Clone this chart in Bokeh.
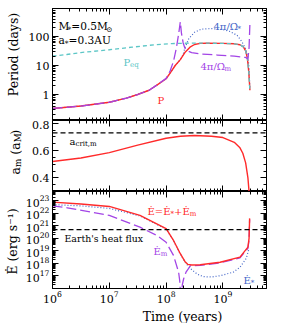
import math
from bokeh.plotting import figure
from bokeh.layouts import column, row
from bokeh.models import (Range1d, LogScale, LinearScale, FixedTicker, LogAxis, LinearAxis,
                          Label, Span, CustomJSTickFormatter, LogTickFormatter)
from bokeh.embed import file_html
from bokeh.resources import INLINE

FONT = "DejaVu Serif"
RED = "#ff2a2a"; CYAN = "#5cc6c6"; PURPLE = "#a345e6"; BLUE = "#4466c8"

# ---------------- data (log10 of time in years) ----------------
logt_P = [6.0, 6.5, 7.0, 7.3, 7.5, 7.7, 7.85, 8.0, 8.07, 8.16, 8.25, 8.33, 8.42, 8.5,
          8.6, 8.7, 9.0, 9.2, 9.3, 9.36, 9.4, 9.43, 9.455, 9.475]
P_days = [0.33, 0.40, 0.54, 0.75, 1.0, 1.4, 2.2, 3.5, 5.5, 10, 16, 28, 43, 53,
          58, 59, 58, 56, 52, 44, 32, 18, 6, 1.4]

logt_Peq = [6.0, 6.25, 6.5, 7.0, 7.4, 7.8, 8.1, 8.4, 8.7, 9.0, 9.2, 9.3, 9.36, 9.4, 9.43, 9.455, 9.475]
Peq_days = [21, 24, 28, 35, 43, 52, 57, 59, 59, 58, 56, 52, 44, 32, 18, 6, 1.3]

logt_Om = [6.0, 6.5, 7.0, 7.3, 7.5, 7.7, 7.85, 8.0, 8.07, 8.13, 8.18, 8.22, 8.25, 8.27, 8.3,
           8.33, 8.38, 8.45, 8.6, 8.9, 9.2, 9.4, 9.44, 9.46, 9.475]
Om_days = [0.33, 0.40, 0.54, 0.75, 1.0, 1.4, 2.2, 3.6, 6.5, 14, 40, 120, 320, 130, 60,
           40, 32, 28, 25, 23, 21, 19, 17, 40, 280]

logt_Os = [6.0, 6.5, 7.0, 7.3, 7.5, 7.7, 7.85, 8.0, 8.07, 8.16, 8.25, 8.3, 8.33, 8.4,
           8.5, 8.62, 8.8, 9.0, 9.12, 9.25, 9.33, 9.4, 9.44, 9.46, 9.475]
Os_days = [0.33, 0.40, 0.54, 0.75, 1.0, 1.4, 2.2, 3.5, 5.5, 10, 16, 24, 40, 85,
           140, 180, 188, 172, 150, 110, 68, 38, 20, 8, 1.5]

logt_am = [6.0, 6.5, 7.0, 7.5, 8.0, 8.25, 8.5, 8.8, 9.0, 9.2, 9.3, 9.35, 9.4, 9.44, 9.46]
a_m = [0.52, 0.545, 0.585, 0.64, 0.69, 0.705, 0.71, 0.705, 0.695, 0.66, 0.62, 0.58, 0.51, 0.40, 0.30]
a_crit = 0.73

logt_E = [6.0, 6.5, 7.0, 7.54, 8.0, 8.13, 8.25, 8.33, 8.38, 8.45, 8.6, 8.95, 9.3, 9.44, 9.46, 9.47]
E_tot = [7.9e22, 5.6e22, 3.6e22, 6.9e21, 6.0e20, 6.9e19, 6.0e18, 1.45e18, 8.5e17, 7.6e17,
         7.9e17, 1.26e18, 3.2e18, 2.0e19, 1.0e20, 4.0e21]

logt_Em = [6.0, 6.26, 7.0, 7.54, 7.84, 8.0, 8.13, 8.22, 8.24, 8.255, 8.27, 8.285, 8.31, 8.35,
           8.43, 8.6, 8.95, 9.3, 9.44, 9.46, 9.47]
E_m = [4.0e22, 2.8e22, 6.9e21, 7.9e20, 1.7e20, 5.0e19, 4.4e18, 2.0e17, 4.0e16, 3.0e15, 1.0e15,
       2.0e16, 6.3e16, 2.0e17, 6.6e17, 7.1e17, 1.12e18, 2.8e18, 1.6e19, 8.0e19, 3.2e21]

logt_Es = [6.0, 6.5, 7.0, 7.54, 8.0, 8.13, 8.25, 8.35, 8.45, 8.55, 8.65, 8.8, 8.95, 9.18, 9.3, 9.41, 9.46]
E_star = [5.0e22, 4.0e22, 2.5e22, 6.3e21, 5.6e20, 6.8e19, 5.6e18, 1.0e18, 3.2e17, 1.4e17,
          8.9e16, 8.3e16, 1.05e17, 2.0e17, 5.0e17, 2.5e18, 1.6e19]

E_earth = 5.0e20

x_major = [1e6, 1e7, 1e8, 1e9]
x_minor = [m * 10.0 ** e for e in range(6, 10) for m in range(2, 10)]
P_major = [1, 10, 100]
P_minor = [m * 10.0 ** e for e in range(-1, 3) for m in range(2, 10)]
a_major = [0.4, 0.6, 0.8]
a_minor = [round(0.30 + 0.05 * i, 2) for i in range(11)]
E_major = [10.0 ** e for e in range(17, 24)]
E_minor = [m * 10.0 ** e for e in range(16, 24) for m in range(2, 10)]

# ---------------- layout (picture px) ----------------
PM = 0        # picture origin = layout origin
SW = 22       # width of the left title strip
FL = 52       # frame left
FW = 214
BL = FL - PM - SW
TOP = 8
BOT_STRIP = 18
TOTAL_H = TOP + 112 + 71 + 97 + 16 + BOT_STRIP
xr = Range1d(1e6, 10 ** 9.767)

W = {'M': 0.86, 'a': 0.60, '=': 0.84, '0': 0.64, '.': 0.32, '5': 0.64, '3': 0.64, 'A': 0.72,
     'U': 0.81, '*': 0.5, '⊙': 0.8, 'P': 0.66, 'e': 0.59, 'q': 0.64, '4': 0.64, 'π': 0.62,
     '/': 0.34, 'Ω': 0.8, '\u0307': 0.0, 'm': 0.95, 'c': 0.56, 'r': 0.48, 'i': 0.32, 't': 0.4,
     ',': 0.32, 'Ė': 0.73, '+': 0.84, ' ': 0.32, '\u00a0': 0.32, '(': 0.39, ')': 0.39}


def tw(s, size):
    return sum(W.get(c, 0.6) for c in s) * size


def mk(y_range, ylog, fh, bt, bb):
    p = figure(frame_width=FW, frame_height=fh, x_range=xr, y_range=y_range,
               x_axis_type=None, y_axis_type=None, output_backend="svg", toolbar_location=None,
               min_border_left=BL, min_border_right=2, min_border_top=bt, min_border_bottom=bb)
    p.x_scale = LogScale()
    p.y_scale = LogScale() if ylog else LinearScale()
    p.outline_line_color = "black"
    p.outline_line_width = 1
    p.background_fill_color = "white"
    p.border_fill_color = "white"
    return p


def strip(w, h):
    s = figure(frame_width=w, frame_height=h, x_range=(0, 1), y_range=(0, 1),
               x_axis_type=None, y_axis_type=None, output_backend="svg", toolbar_location=None,
               min_border=0, outline_line_color=None)
    s.background_fill_color = "white"
    s.border_fill_color = "white"
    return s


def axis(cls, ticks, minor, labels, fmt=None, size="11px"):
    ax = cls(ticker=FixedTicker(ticks=ticks, minor_ticks=minor))
    ax.major_tick_in = 6
    ax.major_tick_out = 0
    ax.minor_tick_in = 3
    ax.minor_tick_out = 0
    ax.axis_line_color = "black"
    ax.major_tick_line_color = "black"
    ax.minor_tick_line_color = "black"
    if labels:
        if fmt is not None:
            ax.formatter = fmt
        ax.major_label_text_font = FONT
        ax.major_label_text_font_size = size
        ax.major_label_text_color = "black"
        ax.major_label_standoff = 3
    else:
        ax.formatter = CustomJSTickFormatter(code="return ''")
        ax.major_label_text_font_size = "1px"
        ax.major_label_standoff = 0
    return ax


def rich(p, x0, fbot, x, y, parts, color, size=10.0):
    """Horizontal text with subscripts; x, y = picture coords of baseline start."""
    cx = x
    for txt, kind in parts:
        fs = size if kind == "n" else size * 0.7
        dy = 0 if kind == "n" else 3
        p.add_layout(Label(x=cx - x0, y=fbot - (y + dy), x_units="screen", y_units="screen",
                           text=txt, text_font=FONT, text_font_size=f"{fs:.1f}px",
                           text_color=color, text_baseline="alphabetic", text_align="left"))
        cx += tw(txt, fs)


def rich_rot(p, x0, fbot, xb, ystart, parts, color, size=12.5):
    cy = ystart
    for txt, kind in parts:
        fs = size if kind == "n" else size * 0.7
        dx = 0 if kind == "n" else 2.5
        p.add_layout(Label(x=xb + dx - x0, y=fbot - cy, x_units="screen", y_units="screen",
                           angle=math.pi / 2, text=txt, text_font=FONT,
                           text_font_size=f"{fs:.1f}px", text_color=color,
                           text_baseline="alphabetic", text_align="left"))
        cy -= tw(txt, fs)


def tx(vals):
    return [10 ** v for v in vals]


# ---------------- panel 1: periods ----------------
F1B = 120
p1 = mk(Range1d(0.127, 925), True, 112, TOP, 0)
fmt0 = CustomJSTickFormatter(code="return tick.toFixed(0)")
p1.add_layout(axis(LogAxis, P_major, P_minor, True, fmt0), "left")
p1.add_layout(axis(LogAxis, P_major, P_minor, False), "right")
p1.add_layout(axis(LogAxis, x_major, x_minor, False), "above")
p1.add_layout(axis(LogAxis, x_major, x_minor, False), "below")

p1.line(tx(logt_Os), Os_days, color=BLUE, line_width=1.2, line_dash="1 2")
p1.line(tx(logt_P), P_days, color=RED, line_width=1.4)
p1.line(tx(logt_Peq), Peq_days, color=CYAN, line_width=1.3, line_dash="4 3")
p1.line(tx(logt_Om), Om_days, color=PURPLE, line_width=1.3, line_dash="10 4")

rich(p1, FL, F1B, 58, 25.5, [("M", "n"), ("*", "s"), ("=0.5M", "n"), ("⊙", "s")], "black", 10.6)
rich(p1, FL, F1B, 58, 39.5, [("a", "n"), ("*", "s"), ("=0.3AU", "n")], "black", 10.6)
rich(p1, FL, F1B, 123, 61.5, [("P", "n"), ("eq", "s")], CYAN)
rich(p1, FL, F1B, 200, 65.5, [("4π/Ω\u0307", "n"), ("m", "s")], PURPLE)
rich(p1, FL, F1B, 213, 25.5, [("4π/Ω\u0307", "n"), ("*", "s")], BLUE)
rich(p1, FL, F1B, 157, 99.5, [("P", "n")], RED)

# ---------------- panel 2: a_m ----------------
F2B = 191
p2 = mk(Range1d(0.30, 0.82), False, 71, 0, 0)
fmt1 = CustomJSTickFormatter(code="return tick.toFixed(1)")
p2.add_layout(axis(LinearAxis, a_major, a_minor, True, fmt1), "left")
p2.add_layout(axis(LinearAxis, a_major, a_minor, False), "right")
p2.add_layout(axis(LogAxis, x_major, x_minor, False), "above")
p2.add_layout(axis(LogAxis, x_major, x_minor, False), "below")
p2.add_layout(Span(location=a_crit, dimension="width", line_color="black", line_width=1.2,
                   line_dash="5 3"))
p2.line(tx(logt_am), a_m, color=RED, line_width=1.4)
rich(p2, FL, F2B, 69, 140.5, [("a", "n"), ("crit,m", "s")], "black")

# ---------------- panel 3: heating ----------------
F3B = 288
p3 = mk(Range1d(1e16, 10 ** 23.75), True, 97, 0, 16)
p3.add_layout(axis(LogAxis, E_major, E_minor, True, LogTickFormatter()), "left")
p3.add_layout(axis(LogAxis, E_major, E_minor, False), "right")
p3.add_layout(axis(LogAxis, x_major, x_minor, False), "above")
xb = axis(LogAxis, x_major, x_minor, True, LogTickFormatter(), size="11px")
xb.major_label_standoff = 2
p3.add_layout(xb, "below")
p3.add_layout(Span(location=E_earth, dimension="width", line_color="black", line_width=1.2,
                   line_dash="5 3"))
p3.line(tx(logt_Es), E_star, color=BLUE, line_width=1.2, line_dash="1 2")
p3.line(tx(logt_Em), E_m, color=PURPLE, line_width=1.3, line_dash="10 4")
p3.line(tx(logt_E), E_tot, color=RED, line_width=1.4)

rich(p3, FL, F3B, 147, 210.5, [("Ė=Ė", "n"), ("*", "s"), ("+Ė", "n"), ("m", "s")], RED)
rich(p3, FL, F3B, 64, 238, [("Earth's heat flux", "n")], "black", size=9.4)
rich(p3, FL, F3B, 153, 250.5, [("Ė", "n"), ("m", "s")], PURPLE)
rich(p3, FL, F3B, 243, 279.5, [("Ė", "n"), ("*", "s")], BLUE)

# ---------------- title strips ----------------
STRIP_BOT = PM + TOTAL_H          # picture y of the left strip's bottom edge
left = strip(SW, TOTAL_H)
left.add_layout(Label(x=13 - PM, y=STRIP_BOT - 54, x_units="screen", y_units="screen",
                      angle=math.pi / 2, text="Period (days)", text_font=FONT,
                      text_font_size="12.5px", text_align="center", text_baseline="middle",
                      text_color="black"))
rich_rot(left, PM, STRIP_BOT, 15, 174,
         [("a", "n"), ("m", "s"), ("\u00a0(a", "n"), ("M", "s"), (")", "n")], "black")
left.add_layout(Label(x=12 - PM, y=STRIP_BOT - 241, x_units="screen", y_units="screen",
                      angle=math.pi / 2, text="Ė (erg s⁻¹)", text_font=FONT,
                      text_font_size="12.5px", text_align="center", text_baseline="middle",
                      text_color="black"))

BW = BL + FW + 2
bottom = strip(BW, BOT_STRIP)
bottom.add_layout(Label(x=152 - (PM + SW), y=BOT_STRIP - (314.5 - (TOTAL_H - BOT_STRIP)),
                        x_units="screen", y_units="screen",
                        text="Time (years)", text_font=FONT, text_font_size="12.5px",
                        text_align="center", text_baseline="alphabetic", text_color="black"))

layout = row(left, column(p1, p2, p3, bottom, spacing=0), spacing=0)
open("out.html", "w").write(file_html(layout, INLINE))
